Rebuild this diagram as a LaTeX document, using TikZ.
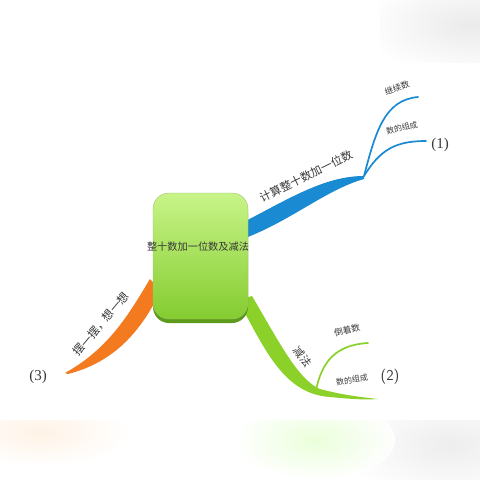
\documentclass[tikz,border=0pt]{standalone}
\usepackage{fontspec}
\newfontfamily\cjk{Noto Sans CJK SC}
\setmainfont{Liberation Serif}
\definecolor{rblue}{HTML}{1A8AD2}
\definecolor{rgreen}{HTML}{8CD12A}
\definecolor{rorange}{HTML}{F37A1E}
\definecolor{boxtop}{HTML}{C8F488}
\definecolor{boxbot}{HTML}{84CC30}
\definecolor{boxsh}{HTML}{5E9A1C}
\definecolor{txt}{HTML}{383838}
\begin{document}
\begin{tikzpicture}[x=1pt,y=-1pt,
  lbl/.style={font=\cjk, text=txt, inner sep=0pt},
  num/.style={inner sep=0pt, text=txt},
  sub/.style={line width=1.7pt, line cap=round}]
\useasboundingbox (0,0) rectangle (480,480);
\fill[white] (0,0) rectangle (480,480);
% faint background
\begin{scope}
\clip (380,0) rectangle (480,62);
\shade[inner color=black!8, outer color=white] (470,25) ellipse (110 and 50);
\end{scope}
\begin{scope}
\clip (0,420) rectangle (480,480);
\shade[inner color=orange!10, outer color=white] (40,432) ellipse (90 and 35);
\shade[inner color=black!7, outer color=white] (450,445) ellipse (110 and 55);
\shade[inner color=yellow!45!green!16, outer color=white, opacity=0.9] (315,440) ellipse (80 and 40);
\end{scope}
% named points
\coordinate (bj) at (364,176);
\coordinate (b1) at (418,97);
\coordinate (b2) at (426,141);
\coordinate (gj) at (316,390);
\coordinate (g1) at (368,343);
\coordinate (g2) at (378,399);
\coordinate (oe) at (65,373);
% blue ribbon
\fill[rblue] (240,224) .. controls (290,198) and (325,176) .. (bj)
  -- (364,179) .. controls (325,190) and (290,222) .. (240,240) -- cycle;
\draw[sub, rblue] (bj) .. controls (376,130) and (385,100) .. (b1);
\draw[sub, rblue] (bj) .. controls (380,150) and (395,141) .. (b2);
% green ribbon
\fill[rgreen] (238,300) .. controls (265,350) and (284,394) .. (330,397)
  .. controls (350,399) and (365,400) .. (g2)
  .. controls (350,396) and (335,393) .. (320,389)
  .. controls (298,380) and (278,340) .. (252,296) -- cycle;
\draw[sub, rgreen] (gj) .. controls (322,362) and (335,345) .. (g1);
% orange ribbon
\fill[rorange] (150,279) .. controls (130,312) and (110,348) .. (oe)
  -- (68,374) .. controls (115,362) and (142,330) .. (161,290) -- cycle;
% central box
\fill[boxsh, rounded corners=16pt] (153,197) rectangle (248,323);
\draw[rounded corners=16pt, top color=boxtop, bottom color=boxbot, draw=boxsh!60, line width=0.4pt]
  (153,193) rectangle (248,319);
\node[lbl, font=\cjk\fontsize{10.2}{12}\selectfont] (c) at (198,247) {整十数加一位数及减法};
% labels
\node[lbl, font=\cjk\fontsize{11.3}{13}\selectfont, rotate=26] (l1) at (306,176) {计算整十数加一位数};
\node[lbl, font=\cjk\fontsize{8.5}{10}\selectfont, rotate=20] (l11) at (397,88) {继续数};
\node[lbl, font=\cjk\fontsize{8}{10}\selectfont, rotate=14] (l12) at (402,128) {数的组成};
\node[num, font=\fontsize{15}{17}\selectfont] (n1) at (440,145) {(1)};
\node[lbl, font=\cjk\fontsize{11}{13}\selectfont, rotate=-52] (l2) at (303,357) {减法};
\node[lbl, font=\cjk\fontsize{8.8}{10}\selectfont, rotate=14] (l21) at (347,330) {倒着数};
\node[lbl, font=\cjk\fontsize{8}{10}\selectfont, rotate=9] (l22) at (352,380) {数的组成};
\node[num, font=\sffamily\fontsize{15}{17}\selectfont] (n2) at (390,377) {(2)};
\node[lbl, font=\cjk\fontsize{11.3}{13}\selectfont, rotate=50] (l3) at (101,324) {摆一摆，想一想};
\node[num, font=\fontsize{15}{17}\selectfont] (n3) at (38,377) {(3)};
\end{tikzpicture}
\end{document}
